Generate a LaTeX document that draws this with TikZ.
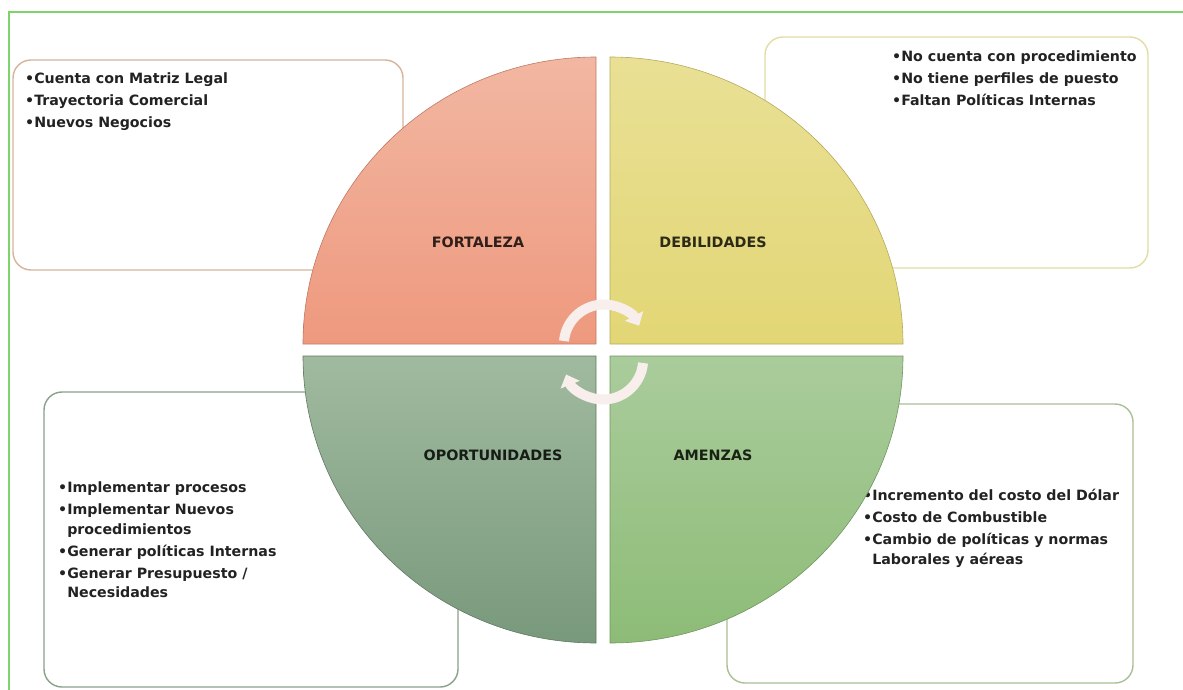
\documentclass[tikz,border=0pt]{standalone}
\usepackage{fontspec}
\setmainfont{DejaVu Sans}
\usetikzlibrary{arrows.meta}
\definecolor{frameg}{HTML}{7FD36B}
\definecolor{fBorder}{HTML}{D6B49C}
\definecolor{dBorder}{HTML}{E2DDA2}
\definecolor{oBorder}{HTML}{8AA08A}
\definecolor{aBorder}{HTML}{A8C094}
\definecolor{fTop}{HTML}{F2B7A2}
\definecolor{fBot}{HTML}{EE997E}
\definecolor{dTop}{HTML}{E9E095}
\definecolor{dBot}{HTML}{E2D675}
\definecolor{oTop}{HTML}{A0BA9F}
\definecolor{oBot}{HTML}{79997C}
\definecolor{aTop}{HTML}{AACC9C}
\definecolor{aBot}{HTML}{8DBC77}
\definecolor{cyc}{HTML}{F8EEEC}
\definecolor{txt}{HTML}{222222}
\tikzset{
  listbox/.style={draw, line width=1.4pt, fill=white, rounded corners=18pt},
  listtext/.style={anchor=north west, inner sep=0pt, align=left, text=txt,
    font=\fontsize{14.2}{19.5}\selectfont\bfseries},
  quad/.style={draw=#1!80!black, line width=0.6pt},
  qlabel/.style={font=\fontsize{14.3}{16}\selectfont\bfseries},
  cyclearrow/.style={draw=cyc, line width=10pt,
    -{Triangle[width=20pt,length=11pt]}}
}
\newcommand{\itemgap}{\\[2.5pt]}
\newcommand{\hang}{\hphantom{•}}
\begin{document}
\begin{tikzpicture}[x=1pt,y=-1pt]
\useasboundingbox (0,0) rectangle (1183,690);
% page frame
\draw[frameg, line width=1.5pt] (9,690) -- (9,12) -- (1183,12);

% text boxes behind the circle
\draw[listbox, draw=fBorder] (13,60) rectangle (403,270);
\draw[listbox, draw=dBorder] (765,37) rectangle (1148,268);
\draw[listbox, draw=oBorder] (44,392) rectangle (458,687);
\draw[listbox, draw=aBorder] (727,404) rectangle (1133,683);

\node[listtext] (ftext) at (25,73) {•Cuenta con Matriz Legal\itemgap •Trayectoria Comercial\itemgap •Nuevos Negocios};
\node[listtext] (dtext) at (892,51) {•No cuenta con procedimiento\itemgap •No tiene perfiles de puesto\itemgap •Faltan Políticas Internas};
\node[listtext] (otext) at (58,482) {•Implementar procesos\itemgap •Implementar Nuevos\\ \hang procedimientos\itemgap •Generar políticas Internas\itemgap •Generar Presupuesto /\\ \hang Necesidades};
\node[listtext] (atext) at (863,489) {•Incremento del costo del Dólar\itemgap •Costo de Combustible\itemgap •Cambio de políticas y normas\\ \hang Laborales y aéreas};

% four quadrants
\path[quad=fBot, top color=fTop, bottom color=fBot]
  (596,344) -- (303,344) arc[start angle=180, end angle=270, x radius=293, y radius=287] -- cycle;
\path[quad=dBot, top color=dTop, bottom color=dBot]
  (610,344) -- (610,57) arc[start angle=270, end angle=360, x radius=293, y radius=287] -- cycle;
\path[quad=aBot, top color=aTop, bottom color=aBot]
  (610,356) -- (903,356) arc[start angle=0, end angle=90, x radius=293, y radius=287] -- cycle;
\path[quad=oBot, top color=oTop, bottom color=oBot]
  (596,356) -- (596,643) arc[start angle=90, end angle=180, x radius=293, y radius=287] -- cycle;

\node[qlabel, text=black!80!fBot] (fort) at (478,242) {FORTALEZA};
\node[qlabel, text=black!80!dBot] (deb) at (713,242) {DEBILIDADES};
\node[qlabel, text=black!82!oBot] (opor) at (493,455) {OPORTUNIDADES};
\node[qlabel, text=black!82!aBot] (amen) at (713,455) {AMENZAS};

% cycle arrows in the centre
\draw[cyclearrow] (564,341) arc[start angle=185, end angle=332, radius=40];
\draw[cyclearrow] (643,363) arc[start angle=5, end angle=158, radius=40];
\end{tikzpicture}
\end{document}
